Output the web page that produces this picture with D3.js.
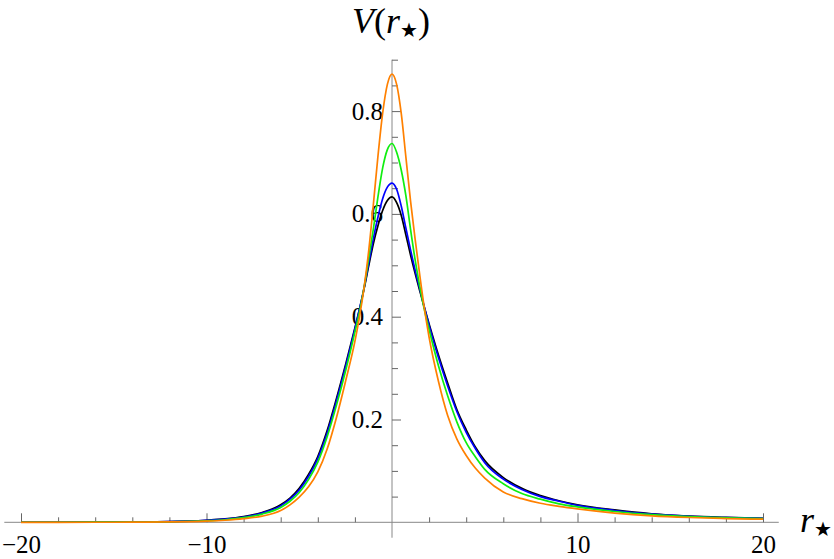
<!DOCTYPE html>
<html>
<head>
<meta charset="utf-8">
<script src="https://cdn.jsdelivr.net/npm/d3@7"></script>
<style>
  html, body { margin: 0; padding: 0; background: #fff; }
  svg text { font-family: "Liberation Serif", Tinos, "Times New Roman", Times, "DejaVu Serif", serif; }
</style>
</head>
<body>
<div id="graph"></div>
<script>
const width = 834;
const height = 559;
const serif = "Liberation Serif, Tinos, Times New Roman, Times, DejaVu Serif, serif";

// sample positions along r*
const rs = [-20, -16, -14, -12, -10, -9, -8, -7, -6, -5.5, -5, -4.5, -4, -3.5, -3, -2.5, -2, -1.75, -1.5, -1.25,
            -1, -0.75, -0.5, -0.25, 0, 0.25, 0.5, 0.75, 1, 1.25, 1.5, 1.75, 2, 2.5, 3, 3.5, 4, 4.5, 5,
            6, 7, 8, 9, 10, 12, 14, 16, 18, 20];

const vBlack = [0.0001, 0.0002, 0.0005, 0.0013, 0.004, 0.0065, 0.011, 0.019, 0.034, 0.047, 0.066, 0.093, 0.128, 0.178, 0.24, 0.307, 0.378, 0.415, 0.455, 0.5,
                0.543, 0.578, 0.607, 0.626, 0.633, 0.622, 0.597, 0.559, 0.52, 0.484, 0.45, 0.417, 0.386, 0.326, 0.271, 0.219, 0.18, 0.146, 0.12,
                0.087, 0.066, 0.052, 0.042, 0.034, 0.024, 0.0165, 0.012, 0.0095, 0.0078];

const vBlue = [0.0001, 0.0002, 0.0005, 0.0012, 0.0037, 0.006, 0.0102, 0.018, 0.032, 0.045, 0.063, 0.089, 0.124, 0.173, 0.235, 0.303, 0.376, 0.415, 0.457, 0.505,
               0.553, 0.595, 0.63, 0.652, 0.66, 0.648, 0.615, 0.572, 0.53, 0.49, 0.454, 0.418, 0.383, 0.321, 0.265, 0.215, 0.175, 0.143, 0.116,
               0.084, 0.064, 0.05, 0.041, 0.033, 0.023, 0.016, 0.0118, 0.0093, 0.0076];

const vGreen = [0.0001, 0.0002, 0.0004, 0.001, 0.003, 0.005, 0.009, 0.016, 0.029, 0.041, 0.058, 0.083, 0.117, 0.166, 0.227, 0.295, 0.37, 0.41, 0.458, 0.515,
                0.572, 0.635, 0.69, 0.725, 0.737, 0.72, 0.685, 0.635, 0.57, 0.51, 0.458, 0.413, 0.375, 0.305, 0.246, 0.195, 0.155, 0.127, 0.103,
                0.075, 0.056, 0.045, 0.036, 0.03, 0.021, 0.0148, 0.011, 0.0088, 0.0072];

const vOrange = [0, 0.0001, 0.0002, 0.0007, 0.0022, 0.004, 0.007, 0.012, 0.023, 0.034, 0.049, 0.069, 0.098, 0.142, 0.203, 0.275, 0.352, 0.4, 0.458, 0.53,
                 0.62, 0.715, 0.797, 0.852, 0.872, 0.852, 0.795, 0.71, 0.625, 0.55, 0.48, 0.415, 0.36, 0.275, 0.208, 0.162, 0.13, 0.105, 0.086,
                 0.059, 0.046, 0.037, 0.031, 0.026, 0.018, 0.0125, 0.0093, 0.0073, 0.006];

const series = [
  {name: "black", values: vBlack, color: "#000000"},
  {name: "blue", values: vBlue, color: "#0000ff"},
  {name: "green", values: vGreen, color: "#10ee10"},
  {name: "orange", values: vOrange, color: "#ff8000"}
];

const xMajor = [-20, -10, 10, 20];
const xMinor = [-18, -16, -14, -12, -8, -6, -4, -2, 2, 4, 6, 8, 12, 14, 16, 18];
const yMajor = [0.2, 0.4, 0.6, 0.8];
const yMinor = [0.05, 0.1, 0.15, 0.25, 0.3, 0.35, 0.45, 0.5, 0.55, 0.65, 0.7, 0.75, 0.85, 0.9];

const xScale = d3.scaleLinear().domain([-20, 20]).range([21, 763]);
const yScale = d3.scaleLinear().domain([0, 0.8]).range([522.3, 111.1]);

const svg = d3.create("svg")
              .attr("width", width)
              .attr("height", height)
              .attr("viewBox", `0 0 ${width} ${height}`);

svg.append("rect").attr("width", width).attr("height", height).attr("fill", "#fff");

// axis lines
svg.append("line")
   .attr("x1", xScale(-20.9)).attr("x2", xScale(20.85))
   .attr("y1", yScale(0)).attr("y2", yScale(0))
   .attr("stroke", "#888").attr("stroke-width", 1);

svg.append("line")
   .attr("x1", xScale(0)).attr("x2", xScale(0))
   .attr("y1", yScale(-0.03)).attr("y2", yScale(0.9))
   .attr("stroke", "#888").attr("stroke-width", 1);

// x-axis ticks
const xAxis = d3.axisBottom(xScale)
                .tickValues(xMajor)
                .tickSize(-9)
                .tickPadding(13)
                .tickFormat(d => d < 0 ? "\u2212" + Math.abs(d) : d);

const xAxisMinor = d3.axisBottom(xScale)
                     .tickValues(xMinor)
                     .tickSize(-5)
                     .tickFormat("");

svg.append("g")
   .attr("transform", `translate(0, ${yScale(0)})`)
   .call(xAxis);
svg.append("g")
   .attr("transform", `translate(0, ${yScale(0)})`)
   .call(xAxisMinor);

// y-axis ticks
const yAxis = d3.axisLeft(yScale)
                .tickValues(yMajor)
                .tickSize(-9)
                .tickPadding(9)
                .tickFormat(d3.format(".1f"));

const yAxisMinor = d3.axisLeft(yScale)
                     .tickValues(yMinor)
                     .tickSize(-6)
                     .tickFormat("");

svg.append("g")
   .attr("transform", `translate(${xScale(0)}, 0)`)
   .call(yAxis);
svg.append("g")
   .attr("transform", `translate(${xScale(0)}, 0)`)
   .call(yAxisMinor);

svg.selectAll(".domain").remove();
svg.selectAll("g").attr("font-family", serif).attr("font-size", 25);
svg.selectAll(".tick line").attr("stroke", "#666");
svg.selectAll(".tick text").attr("fill", "#000");

// curves
const line = d3.line()
               .x((d, i) => xScale(rs[i]))
               .y(d => yScale(d))
               .curve(d3.curveMonotoneX);

svg.selectAll("path.curve")
   .data(series)
   .enter()
   .append("path")
   .classed("curve", true)
   .attr("d", d => line(d.values))
   .attr("fill", "none")
   .attr("stroke", d => d.color)
   .attr("stroke-width", 1.7)
   .attr("stroke-linejoin", "round");

// axis labels
const title = svg.append("text")
   .attr("x", 352)
   .attr("y", 33)
   .attr("font-family", serif)
   .attr("font-size", 36);
title.append("tspan").attr("font-style", "italic").text("V");
title.append("tspan").text("(");
title.append("tspan").attr("font-style", "italic").text("r");
title.append("tspan").attr("dy", 4).attr("font-size", 20).attr("font-family", "DejaVu Sans").text("\u2605");
title.append("tspan").attr("dy", -4).text(")");

const xLabel = svg.append("text")
   .attr("x", 800)
   .attr("y", 532)
   .attr("font-family", serif)
   .attr("font-size", 36);
xLabel.append("tspan").attr("font-style", "italic").text("r");
xLabel.append("tspan").attr("dy", 4).attr("font-size", 20).attr("font-family", "DejaVu Sans").text("\u2605");

graph.append(svg.node());
</script>
</body>
</html>
